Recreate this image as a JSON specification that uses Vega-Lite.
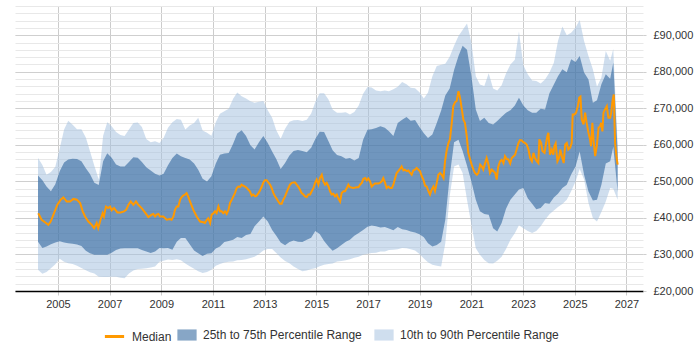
{
  "$schema": "https://vega.github.io/schema/vega-lite/v6.json",
  "autosize": {"type": "none"},
  "padding": {"left": 15, "top": 6, "right": 57, "bottom": 59},
  "width": 628,
  "height": 285,
  "background": "white",
  "datasets": {
    "bands": [
      {"t": 2004.23, "p10": 25800, "p25": 33500, "p75": 51600, "p90": 56400},
      {"t": 2004.40, "p10": 24700, "p25": 31800, "p75": 50300, "p90": 54500},
      {"t": 2004.56, "p10": 25200, "p25": 32200, "p75": 48600, "p90": 51800},
      {"t": 2004.73, "p10": 26200, "p25": 32800, "p75": 47300, "p90": 52600},
      {"t": 2004.90, "p10": 27300, "p25": 33300, "p75": 49200, "p90": 54000},
      {"t": 2005.07, "p10": 28800, "p25": 33600, "p75": 52800, "p90": 59000},
      {"t": 2005.24, "p10": 28000, "p25": 33300, "p75": 55200, "p90": 64200},
      {"t": 2005.40, "p10": 27600, "p25": 33100, "p75": 56000, "p90": 66600},
      {"t": 2005.57, "p10": 27400, "p25": 32900, "p75": 56200, "p90": 65500},
      {"t": 2005.74, "p10": 26900, "p25": 32700, "p75": 56100, "p90": 64300},
      {"t": 2005.91, "p10": 26300, "p25": 32300, "p75": 55500, "p90": 64300},
      {"t": 2006.08, "p10": 25700, "p25": 31000, "p75": 53600, "p90": 62000},
      {"t": 2006.24, "p10": 25100, "p25": 30300, "p75": 52000, "p90": 58300},
      {"t": 2006.41, "p10": 24800, "p25": 29900, "p75": 49600, "p90": 54300},
      {"t": 2006.58, "p10": 23900, "p25": 29900, "p75": 49000, "p90": 50500},
      {"t": 2006.75, "p10": 23800, "p25": 29900, "p75": 55500, "p90": 62500},
      {"t": 2006.91, "p10": 23800, "p25": 29900, "p75": 57700, "p90": 66200},
      {"t": 2007.08, "p10": 23900, "p25": 30500, "p75": 56500, "p90": 65100},
      {"t": 2007.25, "p10": 23900, "p25": 31200, "p75": 54600, "p90": 63500},
      {"t": 2007.42, "p10": 23600, "p25": 31600, "p75": 54100, "p90": 62700},
      {"t": 2007.58, "p10": 23500, "p25": 31700, "p75": 54100, "p90": 62400},
      {"t": 2007.75, "p10": 24800, "p25": 31700, "p75": 55300, "p90": 64200},
      {"t": 2007.92, "p10": 25600, "p25": 31700, "p75": 56600, "p90": 66000},
      {"t": 2008.09, "p10": 26000, "p25": 31700, "p75": 56500, "p90": 66100},
      {"t": 2008.25, "p10": 26100, "p25": 31200, "p75": 55300, "p90": 64900},
      {"t": 2008.42, "p10": 26200, "p25": 30800, "p75": 53900, "p90": 61600},
      {"t": 2008.59, "p10": 26400, "p25": 30400, "p75": 53000, "p90": 60700},
      {"t": 2008.76, "p10": 26700, "p25": 30800, "p75": 52100, "p90": 61000},
      {"t": 2008.93, "p10": 28000, "p25": 31800, "p75": 51600, "p90": 60500},
      {"t": 2009.09, "p10": 28300, "p25": 31700, "p75": 52100, "p90": 61900},
      {"t": 2009.26, "p10": 28600, "p25": 31800, "p75": 54400, "p90": 64700},
      {"t": 2009.43, "p10": 28500, "p25": 31300, "p75": 56400, "p90": 66200},
      {"t": 2009.60, "p10": 28700, "p25": 33500, "p75": 57600, "p90": 67100},
      {"t": 2009.76, "p10": 28400, "p25": 34500, "p75": 56900, "p90": 66900},
      {"t": 2009.93, "p10": 27500, "p25": 34500, "p75": 56400, "p90": 64200},
      {"t": 2010.10, "p10": 26800, "p25": 32800, "p75": 56000, "p90": 65300},
      {"t": 2010.27, "p10": 26100, "p25": 31100, "p75": 54900, "p90": 66000},
      {"t": 2010.43, "p10": 25400, "p25": 30300, "p75": 53200, "p90": 67400},
      {"t": 2010.60, "p10": 24900, "p25": 29600, "p75": 50700, "p90": 63900},
      {"t": 2010.77, "p10": 25200, "p25": 30200, "p75": 50000, "p90": 63300},
      {"t": 2010.94, "p10": 25800, "p25": 30300, "p75": 51400, "p90": 62500},
      {"t": 2011.11, "p10": 26900, "p25": 31600, "p75": 54900, "p90": 66200},
      {"t": 2011.27, "p10": 27400, "p25": 32200, "p75": 57300, "p90": 68500},
      {"t": 2011.44, "p10": 27800, "p25": 33400, "p75": 57600, "p90": 69200},
      {"t": 2011.61, "p10": 28000, "p25": 33700, "p75": 57800, "p90": 69900},
      {"t": 2011.78, "p10": 28100, "p25": 34000, "p75": 60300, "p90": 72600},
      {"t": 2011.94, "p10": 28400, "p25": 34800, "p75": 63100, "p90": 74300},
      {"t": 2012.11, "p10": 28500, "p25": 34500, "p75": 64000, "p90": 73300},
      {"t": 2012.28, "p10": 28700, "p25": 35300, "p75": 62400, "p90": 72700},
      {"t": 2012.45, "p10": 29000, "p25": 35600, "p75": 59900, "p90": 71900},
      {"t": 2012.61, "p10": 29400, "p25": 37700, "p75": 58700, "p90": 71500},
      {"t": 2012.78, "p10": 30100, "p25": 39000, "p75": 60700, "p90": 71800},
      {"t": 2012.95, "p10": 31100, "p25": 40400, "p75": 62400, "p90": 72000},
      {"t": 2013.12, "p10": 31500, "p25": 39000, "p75": 60500, "p90": 69500},
      {"t": 2013.29, "p10": 31500, "p25": 36700, "p75": 58200, "p90": 67400},
      {"t": 2013.45, "p10": 30400, "p25": 35100, "p75": 56100, "p90": 64000},
      {"t": 2013.62, "p10": 29200, "p25": 33300, "p75": 53400, "p90": 61700},
      {"t": 2013.79, "p10": 28200, "p25": 32500, "p75": 55000, "p90": 64400},
      {"t": 2013.96, "p10": 27600, "p25": 33400, "p75": 57100, "p90": 66300},
      {"t": 2014.12, "p10": 26700, "p25": 33800, "p75": 58300, "p90": 66700},
      {"t": 2014.29, "p10": 26000, "p25": 33500, "p75": 58600, "p90": 66800},
      {"t": 2014.46, "p10": 25400, "p25": 33400, "p75": 58300, "p90": 66500},
      {"t": 2014.63, "p10": 25600, "p25": 34000, "p75": 58000, "p90": 66900},
      {"t": 2014.80, "p10": 26000, "p25": 34600, "p75": 59200, "p90": 68600},
      {"t": 2014.96, "p10": 26200, "p25": 36400, "p75": 61600, "p90": 71700},
      {"t": 2015.13, "p10": 26800, "p25": 35600, "p75": 63600, "p90": 74100},
      {"t": 2015.30, "p10": 27200, "p25": 33700, "p75": 63500, "p90": 74100},
      {"t": 2015.47, "p10": 27400, "p25": 32200, "p75": 61000, "p90": 72400},
      {"t": 2015.63, "p10": 27500, "p25": 31000, "p75": 58500, "p90": 69700},
      {"t": 2015.80, "p10": 28100, "p25": 31700, "p75": 57200, "p90": 68800},
      {"t": 2015.97, "p10": 28200, "p25": 32600, "p75": 56900, "p90": 68800},
      {"t": 2016.14, "p10": 28400, "p25": 33500, "p75": 56200, "p90": 68900},
      {"t": 2016.30, "p10": 28700, "p25": 34000, "p75": 56400, "p90": 68300},
      {"t": 2016.47, "p10": 29100, "p25": 35100, "p75": 55700, "p90": 69000},
      {"t": 2016.64, "p10": 29400, "p25": 35900, "p75": 56400, "p90": 70800},
      {"t": 2016.81, "p10": 29900, "p25": 36700, "p75": 61400, "p90": 74000},
      {"t": 2016.98, "p10": 30200, "p25": 37600, "p75": 64100, "p90": 75800},
      {"t": 2017.14, "p10": 30400, "p25": 37900, "p75": 64300, "p90": 75700},
      {"t": 2017.31, "p10": 30500, "p25": 37700, "p75": 64600, "p90": 74900},
      {"t": 2017.48, "p10": 30800, "p25": 37400, "p75": 65100, "p90": 74700},
      {"t": 2017.65, "p10": 30800, "p25": 37500, "p75": 64700, "p90": 74900},
      {"t": 2017.81, "p10": 31200, "p25": 37100, "p75": 63700, "p90": 74700},
      {"t": 2017.98, "p10": 31300, "p25": 36600, "p75": 62400, "p90": 75200},
      {"t": 2018.15, "p10": 31400, "p25": 37500, "p75": 66000, "p90": 75900},
      {"t": 2018.32, "p10": 31800, "p25": 36900, "p75": 66900, "p90": 77200},
      {"t": 2018.49, "p10": 31700, "p25": 36700, "p75": 67600, "p90": 76600},
      {"t": 2018.65, "p10": 31400, "p25": 36300, "p75": 66600, "p90": 75600},
      {"t": 2018.82, "p10": 31100, "p25": 36000, "p75": 66800, "p90": 75500},
      {"t": 2018.99, "p10": 30100, "p25": 35500, "p75": 64900, "p90": 74400},
      {"t": 2019.16, "p10": 28900, "p25": 34700, "p75": 63200, "p90": 72700},
      {"t": 2019.32, "p10": 27900, "p25": 33100, "p75": 61900, "p90": 74300},
      {"t": 2019.49, "p10": 27200, "p25": 32200, "p75": 62800, "p90": 78800},
      {"t": 2019.66, "p10": 26900, "p25": 32600, "p75": 66000, "p90": 81600},
      {"t": 2019.83, "p10": 26700, "p25": 33500, "p75": 69400, "p90": 81900},
      {"t": 2019.99, "p10": 33100, "p25": 39500, "p75": 73500, "p90": 82200},
      {"t": 2020.16, "p10": 45900, "p25": 51400, "p75": 75400, "p90": 84100},
      {"t": 2020.33, "p10": 54100, "p25": 60700, "p75": 80500, "p90": 87100},
      {"t": 2020.50, "p10": 54600, "p25": 61400, "p75": 84300, "p90": 89800},
      {"t": 2020.66, "p10": 52300, "p25": 58300, "p75": 87100, "p90": 91400},
      {"t": 2020.83, "p10": 45000, "p25": 54300, "p75": 86000, "p90": 93200},
      {"t": 2021.00, "p10": 38100, "p25": 50000, "p75": 78800, "p90": 88000},
      {"t": 2021.17, "p10": 31700, "p25": 45000, "p75": 69700, "p90": 78800},
      {"t": 2021.33, "p10": 29900, "p25": 41800, "p75": 66500, "p90": 76500},
      {"t": 2021.50, "p10": 28500, "p25": 41100, "p75": 67400, "p90": 76100},
      {"t": 2021.67, "p10": 27600, "p25": 40900, "p75": 66000, "p90": 79600},
      {"t": 2021.84, "p10": 27500, "p25": 37200, "p75": 65600, "p90": 75400},
      {"t": 2022.00, "p10": 28300, "p25": 36300, "p75": 66500, "p90": 74900},
      {"t": 2022.17, "p10": 29400, "p25": 38600, "p75": 67700, "p90": 76300},
      {"t": 2022.34, "p10": 31500, "p25": 42500, "p75": 68800, "p90": 79500},
      {"t": 2022.51, "p10": 34000, "p25": 45000, "p75": 69500, "p90": 82000},
      {"t": 2022.68, "p10": 35800, "p25": 46400, "p75": 70800, "p90": 83300},
      {"t": 2022.84, "p10": 38000, "p25": 47800, "p75": 72900, "p90": 91000},
      {"t": 2023.01, "p10": 37200, "p25": 48200, "p75": 70800, "p90": 81800},
      {"t": 2023.18, "p10": 36400, "p25": 45400, "p75": 69500, "p90": 79300},
      {"t": 2023.35, "p10": 35900, "p25": 43900, "p75": 68800, "p90": 77600},
      {"t": 2023.51, "p10": 36400, "p25": 42400, "p75": 68800, "p90": 77500},
      {"t": 2023.68, "p10": 37700, "p25": 42700, "p75": 69900, "p90": 76800},
      {"t": 2023.85, "p10": 39500, "p25": 44100, "p75": 69700, "p90": 77900},
      {"t": 2024.02, "p10": 41000, "p25": 43900, "p75": 74100, "p90": 79800},
      {"t": 2024.19, "p10": 42000, "p25": 45600, "p75": 76500, "p90": 82500},
      {"t": 2024.35, "p10": 43000, "p25": 46600, "p75": 78800, "p90": 88400},
      {"t": 2024.52, "p10": 43800, "p25": 48200, "p75": 80700, "p90": 92400},
      {"t": 2024.69, "p10": 45000, "p25": 49100, "p75": 79900, "p90": 90000},
      {"t": 2024.86, "p10": 47300, "p25": 51900, "p75": 83400, "p90": 90700},
      {"t": 2025.03, "p10": 50000, "p25": 54100, "p75": 82700, "p90": 92100},
      {"t": 2025.19, "p10": 53400, "p25": 58200, "p75": 84300, "p90": 94200},
      {"t": 2025.36, "p10": 50500, "p25": 51800, "p75": 79800, "p90": 88400},
      {"t": 2025.53, "p10": 44100, "p25": 47200, "p75": 77900, "p90": 84300},
      {"t": 2025.70, "p10": 40000, "p25": 44800, "p75": 71500, "p90": 80700},
      {"t": 2025.86, "p10": 39000, "p25": 45000, "p75": 72200, "p90": 75900},
      {"t": 2026.03, "p10": 41600, "p25": 49100, "p75": 76600, "p90": 78400},
      {"t": 2026.20, "p10": 44500, "p25": 54900, "p75": 79300, "p90": 85700},
      {"t": 2026.37, "p10": 48200, "p25": 55500, "p75": 78100, "p90": 83000},
      {"t": 2026.49, "p10": 48000, "p25": 59500, "p75": 82500, "p90": 86200},
      {"t": 2026.66, "p10": 45000, "p25": 47000, "p75": 58000, "p90": 60000}
    ],
    "median": [
      {"t": 2004.24, "median": 41300}, {"t": 2004.37, "median": 39500}, {"t": 2004.50, "median": 38800},
      {"t": 2004.63, "median": 38100}, {"t": 2004.72, "median": 39000}, {"t": 2004.85, "median": 41300},
      {"t": 2004.98, "median": 43600}, {"t": 2005.11, "median": 45000}, {"t": 2005.21, "median": 45600},
      {"t": 2005.34, "median": 44500}, {"t": 2005.47, "median": 44500}, {"t": 2005.60, "median": 45200},
      {"t": 2005.73, "median": 45000}, {"t": 2005.86, "median": 44100}, {"t": 2005.96, "median": 41800},
      {"t": 2006.05, "median": 40400}, {"t": 2006.18, "median": 39000}, {"t": 2006.31, "median": 38100},
      {"t": 2006.40, "median": 37200}, {"t": 2006.50, "median": 38600}, {"t": 2006.56, "median": 37200},
      {"t": 2006.65, "median": 39500}, {"t": 2006.73, "median": 41300}, {"t": 2006.78, "median": 40400},
      {"t": 2006.86, "median": 43100}, {"t": 2006.95, "median": 42700}, {"t": 2007.02, "median": 43100},
      {"t": 2007.08, "median": 42100}, {"t": 2007.17, "median": 42700}, {"t": 2007.30, "median": 41500},
      {"t": 2007.43, "median": 41500}, {"t": 2007.56, "median": 41800}, {"t": 2007.64, "median": 42200},
      {"t": 2007.73, "median": 43600}, {"t": 2007.82, "median": 44500}, {"t": 2007.92, "median": 43600},
      {"t": 2008.02, "median": 44500}, {"t": 2008.11, "median": 43600}, {"t": 2008.24, "median": 42700},
      {"t": 2008.37, "median": 41500}, {"t": 2008.50, "median": 40200}, {"t": 2008.63, "median": 40900},
      {"t": 2008.69, "median": 41100}, {"t": 2008.76, "median": 40400}, {"t": 2008.82, "median": 40900},
      {"t": 2008.89, "median": 41100}, {"t": 2008.95, "median": 40400}, {"t": 2009.08, "median": 40400},
      {"t": 2009.21, "median": 39500}, {"t": 2009.34, "median": 39700}, {"t": 2009.40, "median": 39500},
      {"t": 2009.47, "median": 40400}, {"t": 2009.53, "median": 42200}, {"t": 2009.60, "median": 43100},
      {"t": 2009.66, "median": 43100}, {"t": 2009.73, "median": 45000}, {"t": 2009.79, "median": 45700},
      {"t": 2009.85, "median": 46100}, {"t": 2009.92, "median": 46400}, {"t": 2009.98, "median": 46800},
      {"t": 2010.05, "median": 45700}, {"t": 2010.11, "median": 44500}, {"t": 2010.24, "median": 42200},
      {"t": 2010.37, "median": 40400}, {"t": 2010.50, "median": 39000}, {"t": 2010.63, "median": 38800},
      {"t": 2010.69, "median": 38600}, {"t": 2010.76, "median": 39500}, {"t": 2010.82, "median": 39900},
      {"t": 2010.89, "median": 38600}, {"t": 2010.95, "median": 40900}, {"t": 2011.02, "median": 41300},
      {"t": 2011.08, "median": 41800}, {"t": 2011.14, "median": 41300}, {"t": 2011.21, "median": 43100},
      {"t": 2011.27, "median": 41800}, {"t": 2011.34, "median": 41800}, {"t": 2011.40, "median": 41300},
      {"t": 2011.47, "median": 41800}, {"t": 2011.53, "median": 41100}, {"t": 2011.60, "median": 42200},
      {"t": 2011.66, "median": 44100}, {"t": 2011.73, "median": 45000}, {"t": 2011.79, "median": 45900},
      {"t": 2011.85, "median": 46800}, {"t": 2011.92, "median": 48200}, {"t": 2011.98, "median": 48600},
      {"t": 2012.05, "median": 48500}, {"t": 2012.11, "median": 49100}, {"t": 2012.18, "median": 48800},
      {"t": 2012.24, "median": 48600}, {"t": 2012.31, "median": 48200}, {"t": 2012.37, "median": 47700},
      {"t": 2012.43, "median": 47300}, {"t": 2012.50, "median": 46100}, {"t": 2012.56, "median": 46400},
      {"t": 2012.63, "median": 45900}, {"t": 2012.69, "median": 46100}, {"t": 2012.76, "median": 46800},
      {"t": 2012.82, "median": 47500}, {"t": 2012.89, "median": 48600}, {"t": 2012.95, "median": 49700},
      {"t": 2013.01, "median": 50300}, {"t": 2013.08, "median": 50300}, {"t": 2013.14, "median": 49700},
      {"t": 2013.21, "median": 49100}, {"t": 2013.27, "median": 48200}, {"t": 2013.34, "median": 46800},
      {"t": 2013.40, "median": 45900}, {"t": 2013.47, "median": 45200}, {"t": 2013.53, "median": 44500},
      {"t": 2013.59, "median": 43900}, {"t": 2013.66, "median": 43900}, {"t": 2013.72, "median": 45000},
      {"t": 2013.79, "median": 45900}, {"t": 2013.85, "median": 47000}, {"t": 2013.92, "median": 48200},
      {"t": 2013.98, "median": 49100}, {"t": 2014.05, "median": 49600}, {"t": 2014.11, "median": 49700},
      {"t": 2014.18, "median": 49700}, {"t": 2014.24, "median": 49100}, {"t": 2014.30, "median": 48600},
      {"t": 2014.37, "median": 47700}, {"t": 2014.43, "median": 46800}, {"t": 2014.50, "median": 46400},
      {"t": 2014.56, "median": 45900}, {"t": 2014.63, "median": 45700}, {"t": 2014.69, "median": 46400},
      {"t": 2014.76, "median": 46400}, {"t": 2014.82, "median": 47300}, {"t": 2014.89, "median": 48200},
      {"t": 2014.95, "median": 49600}, {"t": 2015.01, "median": 50500}, {"t": 2015.08, "median": 49100},
      {"t": 2015.14, "median": 50900}, {"t": 2015.21, "median": 51800}, {"t": 2015.27, "median": 50000},
      {"t": 2015.34, "median": 49100}, {"t": 2015.40, "median": 49600}, {"t": 2015.47, "median": 48600},
      {"t": 2015.53, "median": 47300}, {"t": 2015.59, "median": 46400}, {"t": 2015.66, "median": 46600},
      {"t": 2015.72, "median": 45900}, {"t": 2015.79, "median": 46400}, {"t": 2015.85, "median": 45400},
      {"t": 2015.92, "median": 44500}, {"t": 2015.98, "median": 46800}, {"t": 2016.05, "median": 47300},
      {"t": 2016.11, "median": 47300}, {"t": 2016.18, "median": 48200}, {"t": 2016.24, "median": 49100},
      {"t": 2016.30, "median": 48400}, {"t": 2016.43, "median": 48200}, {"t": 2016.56, "median": 48400},
      {"t": 2016.63, "median": 48400}, {"t": 2016.69, "median": 49100}, {"t": 2016.76, "median": 49600},
      {"t": 2016.82, "median": 50700}, {"t": 2016.89, "median": 50900}, {"t": 2016.95, "median": 50300},
      {"t": 2017.01, "median": 50800}, {"t": 2017.08, "median": 50000}, {"t": 2017.14, "median": 48600},
      {"t": 2017.21, "median": 49100}, {"t": 2017.27, "median": 49400}, {"t": 2017.34, "median": 49400},
      {"t": 2017.40, "median": 49400}, {"t": 2017.46, "median": 49600}, {"t": 2017.53, "median": 50000},
      {"t": 2017.59, "median": 50900}, {"t": 2017.66, "median": 49600}, {"t": 2017.72, "median": 48200},
      {"t": 2017.79, "median": 48600}, {"t": 2017.85, "median": 48200}, {"t": 2017.92, "median": 48200},
      {"t": 2017.98, "median": 49100}, {"t": 2018.05, "median": 50900}, {"t": 2018.11, "median": 52300},
      {"t": 2018.17, "median": 52800}, {"t": 2018.24, "median": 53400}, {"t": 2018.30, "median": 54100},
      {"t": 2018.37, "median": 53000}, {"t": 2018.43, "median": 53200}, {"t": 2018.50, "median": 52800},
      {"t": 2018.56, "median": 53000}, {"t": 2018.63, "median": 52300}, {"t": 2018.69, "median": 51800},
      {"t": 2018.75, "median": 53000}, {"t": 2018.82, "median": 53200}, {"t": 2018.88, "median": 53700},
      {"t": 2018.95, "median": 53200}, {"t": 2019.01, "median": 52800}, {"t": 2019.08, "median": 51400},
      {"t": 2019.14, "median": 50500}, {"t": 2019.21, "median": 48800}, {"t": 2019.27, "median": 48600},
      {"t": 2019.34, "median": 47300}, {"t": 2019.40, "median": 46400}, {"t": 2019.46, "median": 47700},
      {"t": 2019.53, "median": 48600}, {"t": 2019.59, "median": 47300}, {"t": 2019.66, "median": 49600},
      {"t": 2019.72, "median": 51800}, {"t": 2019.79, "median": 52300}, {"t": 2019.85, "median": 51800},
      {"t": 2019.92, "median": 50900}, {"t": 2019.98, "median": 55500}, {"t": 2020.04, "median": 58300},
      {"t": 2020.11, "median": 60500}, {"t": 2020.17, "median": 61500}, {"t": 2020.24, "median": 66000},
      {"t": 2020.30, "median": 70600}, {"t": 2020.37, "median": 71700}, {"t": 2020.43, "median": 72000},
      {"t": 2020.50, "median": 74700}, {"t": 2020.56, "median": 72900}, {"t": 2020.63, "median": 69700},
      {"t": 2020.69, "median": 66900}, {"t": 2020.75, "median": 66000}, {"t": 2020.82, "median": 62400},
      {"t": 2020.88, "median": 57800}, {"t": 2020.95, "median": 56000}, {"t": 2021.01, "median": 54600},
      {"t": 2021.08, "median": 53200}, {"t": 2021.14, "median": 52300}, {"t": 2021.21, "median": 51800},
      {"t": 2021.27, "median": 52300}, {"t": 2021.34, "median": 54600}, {"t": 2021.40, "median": 54100},
      {"t": 2021.46, "median": 53200}, {"t": 2021.53, "median": 55000}, {"t": 2021.59, "median": 56400},
      {"t": 2021.66, "median": 54600}, {"t": 2021.72, "median": 52300}, {"t": 2021.79, "median": 53200},
      {"t": 2021.85, "median": 52800}, {"t": 2021.92, "median": 52300}, {"t": 2021.98, "median": 50500},
      {"t": 2022.04, "median": 54100}, {"t": 2022.11, "median": 55500}, {"t": 2022.17, "median": 55900},
      {"t": 2022.24, "median": 55000}, {"t": 2022.30, "median": 56900}, {"t": 2022.37, "median": 56100},
      {"t": 2022.43, "median": 56000}, {"t": 2022.50, "median": 54900}, {"t": 2022.56, "median": 56400},
      {"t": 2022.63, "median": 56900}, {"t": 2022.69, "median": 57300}, {"t": 2022.75, "median": 58700},
      {"t": 2022.82, "median": 60500}, {"t": 2022.88, "median": 61300}, {"t": 2022.95, "median": 61200},
      {"t": 2023.01, "median": 60700}, {"t": 2023.08, "median": 60500}, {"t": 2023.14, "median": 60100},
      {"t": 2023.21, "median": 58700}, {"t": 2023.27, "median": 56400}, {"t": 2023.34, "median": 55500},
      {"t": 2023.40, "median": 57800}, {"t": 2023.46, "median": 56400}, {"t": 2023.53, "median": 55500},
      {"t": 2023.59, "median": 55000}, {"t": 2023.63, "median": 61500}, {"t": 2023.70, "median": 60500},
      {"t": 2023.75, "median": 58300}, {"t": 2023.83, "median": 57800}, {"t": 2023.88, "median": 60100},
      {"t": 2023.94, "median": 62400}, {"t": 2023.98, "median": 63300}, {"t": 2024.04, "median": 57300},
      {"t": 2024.11, "median": 58700}, {"t": 2024.17, "median": 57300}, {"t": 2024.21, "median": 59600},
      {"t": 2024.26, "median": 60400}, {"t": 2024.33, "median": 55500}, {"t": 2024.39, "median": 56400},
      {"t": 2024.44, "median": 58700}, {"t": 2024.50, "median": 56900}, {"t": 2024.57, "median": 55000},
      {"t": 2024.63, "median": 60100}, {"t": 2024.69, "median": 60500}, {"t": 2024.75, "median": 58700},
      {"t": 2024.82, "median": 59200}, {"t": 2024.88, "median": 60500}, {"t": 2024.92, "median": 68300},
      {"t": 2024.99, "median": 68300}, {"t": 2025.05, "median": 68800}, {"t": 2025.12, "median": 70600},
      {"t": 2025.17, "median": 72900}, {"t": 2025.22, "median": 73200}, {"t": 2025.27, "median": 66900},
      {"t": 2025.34, "median": 65600}, {"t": 2025.40, "median": 68800}, {"t": 2025.46, "median": 66000},
      {"t": 2025.53, "median": 63300}, {"t": 2025.59, "median": 61500}, {"t": 2025.63, "median": 59600},
      {"t": 2025.68, "median": 66000}, {"t": 2025.73, "median": 61000}, {"t": 2025.79, "median": 56900},
      {"t": 2025.85, "median": 59600}, {"t": 2025.92, "median": 64700}, {"t": 2025.98, "median": 65100},
      {"t": 2026.02, "median": 66000}, {"t": 2026.07, "median": 63700}, {"t": 2026.11, "median": 68800},
      {"t": 2026.17, "median": 69700}, {"t": 2026.24, "median": 70600}, {"t": 2026.30, "median": 67400},
      {"t": 2026.37, "median": 67400}, {"t": 2026.41, "median": 68800}, {"t": 2026.46, "median": 72000},
      {"t": 2026.51, "median": 73800}, {"t": 2026.56, "median": 60500}, {"t": 2026.62, "median": 56400},
      {"t": 2026.66, "median": 54600}
    ]
  },
  "layer": [
    {
      "data": {"name": "bands"},
      "mark": {"type": "area", "opacity": 0.52},
      "encoding": {
        "x": {
          "field": "t",
          "type": "quantitative",
          "scale": {"domain": [2003.34, 2027.64], "nice": false, "zero": false},
          "axis": {
            "title": null,
            "values": [2005, 2007, 2009, 2011, 2013, 2015, 2017, 2019, 2021, 2023, 2025, 2027],
            "format": "d",
            "grid": true,
            "gridColor": "#cccccc"
          }
        },
        "y": {
          "field": "p10",
          "type": "quantitative",
          "scale": {"domain": [20000, 98000], "nice": false, "zero": false},
          "axis": {
            "title": null,
            "orient": "left",
            "values": [20000, 22000, 24000, 26000, 28000, 30000, 32000, 34000, 36000, 38000, 40000, 42000, 44000, 46000, 48000, 50000, 52000, 54000, 56000, 58000, 60000, 62000, 64000, 66000, 68000, 70000, 72000, 74000, 76000, 78000, 80000, 82000, 84000, 86000, 88000, 90000, 92000, 94000, 96000, 98000],
            "grid": true,
            "gridColor": "#e8e8e8",
            "labels": false,
            "ticks": false,
            "domain": false
          }
        },
        "y2": {"field": "p90"},
        "fill": {
          "datum": "10th to 90th Percentile Range",
          "type": "nominal",
          "scale": {
            "domain": ["25th to 75th Percentile Range", "10th to 90th Percentile Range"],
            "range": ["#185492", "#a3c0de"]
          },
          "legend": {
            "title": null,
            "orient": "none",
            "legendX": 162,
            "legendY": 319,
            "direction": "horizontal",
            "padding": 0,
            "labelFont": "Liberation Sans",
            "labelFontSize": 12,
            "labelColor": "#333333",
            "labelLimit": 300,
            "labelOffset": 6,
            "columnPadding": 12,
            "symbolSize": 370,
            "symbolType": "M-1,-0.58H1V0.58H-1Z",
            "symbolOpacity": 0.52,
            "symbolStrokeWidth": 0
          }
        }
      }
    },
    {
      "data": {"name": "bands"},
      "mark": {"type": "area", "opacity": 0.52},
      "encoding": {
        "x": {
          "field": "t",
          "type": "quantitative",
          "axis": {
            "title": null,
            "values": [2005, 2007, 2009, 2011, 2013, 2015, 2017, 2019, 2021, 2023, 2025, 2027],
            "format": "d",
            "grid": true,
            "gridColor": "#cccccc"
          }
        },
        "y": {
          "field": "p25",
          "type": "quantitative",
          "axis": {
            "title": null,
            "orient": "right",
            "values": [20000, 30000, 40000, 50000, 60000, 70000, 80000, 90000],
            "labelExpr": "'\u00a3' + format(datum.value, ',')",
            "grid": true,
            "gridColor": "#cfcfcf",
            "ticks": true,
            "tickSize": 3,
            "tickColor": "#cfcfcf",
            "domain": false,
            "labelPadding": 7,
            "labelFont": "Liberation Sans",
            "labelFontSize": 11,
            "labelColor": "#333333"
          }
        },
        "y2": {"field": "p75"},
        "fill": {"datum": "25th to 75th Percentile Range", "type": "nominal"}
      }
    },
    {
      "data": {"name": "median"},
      "mark": {"type": "line", "strokeWidth": 2},
      "encoding": {
        "x": {
          "field": "t",
          "type": "quantitative",
          "axis": {
            "title": null,
            "values": [2005, 2007, 2009, 2011, 2013, 2015, 2017, 2019, 2021, 2023, 2025, 2027],
            "format": "d",
            "grid": true,
            "gridColor": "#cccccc"
          }
        },
        "y": {"field": "median", "type": "quantitative", "axis": null},
        "stroke": {
          "datum": "Median",
          "type": "nominal",
          "scale": {"domain": ["Median"], "range": ["#ff9900"]},
          "legend": {
            "title": null,
            "orient": "none",
            "legendX": 88,
            "legendY": 319,
            "direction": "horizontal",
            "padding": 0,
            "labelFont": "Liberation Sans",
            "labelFontSize": 12,
            "labelColor": "#333333",
            "labelOffset": 6,
            "symbolSize": 370,
            "symbolType": "stroke",
            "symbolStrokeWidth": 3
          }
        }
      }
    }
  ],
  "resolve": {"axis": {"y": "independent"}},
  "config": {
    "view": {"stroke": null},
    "font": "Liberation Sans",
    "axis": {"labelFont": "Liberation Sans", "labelFontSize": 11, "labelColor": "#333333"},
    "axisX": {
      "title": null,
      "grid": true,
      "gridColor": "#cccccc",
      "ticks": true,
      "tickSize": 4,
      "tickColor": "#cccccc",
      "domain": true,
      "domainColor": "#000000",
      "domainWidth": 1.5,
      "labelPadding": 3,
      "labelFlush": false,
      "labelOverlap": false
    }
  }
}
